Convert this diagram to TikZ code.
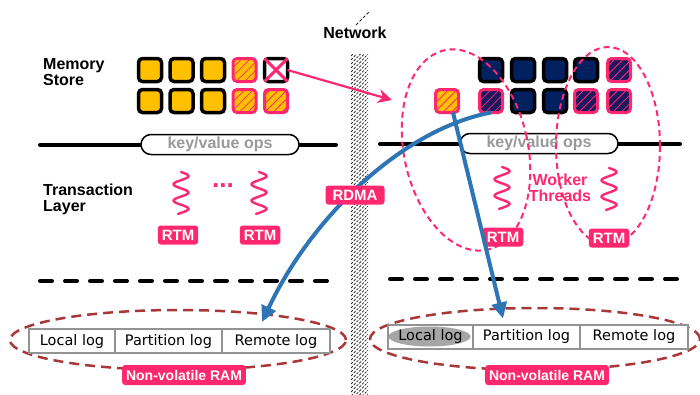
\documentclass[tikz,border=0pt]{standalone}
\usepackage{fontspec}
\setmainfont{Liberation Sans}
\newfontfamily\logfont{DejaVu Sans}
\usepackage{tikz}
\usetikzlibrary{positioning}
\usetikzlibrary{patterns.meta}
\usetikzlibrary{arrows.meta}

\definecolor{hot}{RGB}{255,40,110}
\definecolor{yel}{RGB}{255,192,0}
\definecolor{navy}{RGB}{0,32,96}
\definecolor{navyhot}{RGB}{28,24,96}
\definecolor{dblue}{RGB}{46,117,182}
\definecolor{nvred}{RGB}{170,55,55}

\tikzset{
  sq/.style={minimum size=23pt, inner sep=0pt, outer sep=0pt, rounded corners=4pt, line width=3.5pt},
  ysq/.style={sq, draw=black, fill=yel},
  nsq/.style={sq, draw=black, fill=navy},
  hatched/.style={postaction={pattern={Lines[angle=45,distance=6pt,line width=0.8pt]}, pattern color=hot}},
  ysqh/.style={sq, line width=3pt, draw=hot, fill=yel, hatched},
  nsqh/.style={sq, line width=3pt, draw=hot, fill=navyhot, hatched},
  lbl/.style={font=\fontsize{16}{16}\selectfont\bfseries, align=left, inner sep=0pt},
  tag/.style={fill=hot, text=white, rounded corners=3pt, font=\fontsize{15}{15}\selectfont\bfseries, inner xsep=4pt, inner ysep=0pt, minimum height=19pt},
  kvbox/.style={draw, line width=1.5pt, fill=white, rounded corners=10pt, minimum width=158pt, minimum height=20pt, inner sep=0pt, text=gray!80, font=\fontsize{16}{16}\selectfont\bfseries},
  logcell/.style={draw=gray!85, line width=2pt, fill=white, minimum height=24pt, inner sep=0pt, outer sep=0pt, font=\logfont\fontsize{14.5}{14.5}\selectfont},
  wring/.style={draw=hot, line width=2pt, dash pattern=on 6pt off 4pt},
  nvring/.style={draw=nvred, line width=2.5pt, dash pattern=on 10pt off 6pt},
  layerline/.style={line width=4pt, line cap=round},
  hotarrow/.style={draw=hot, line width=2.2pt, -{Stealth[length=14pt,width=14pt]}},
  dataflow/.style={draw=dblue, line width=4pt, -{Triangle[length=16pt,width=15pt]}}
}

\newcommand{\wiggle}[2]{\draw[hot, line width=2.4pt, line cap=round] plot[domain=0:42, samples=50, smooth] ({#1+7.5*sin(\x*22)}, {#2+\x});}

\begin{document}
\begin{tikzpicture}[x=1pt, y=-1pt]
  \path[use as bounding box] (0,0) rectangle (700,394);

  \begin{scope}
    \clip (351,54) rectangle (368,394);
    \foreach \y in {30,34,...,400}
      \draw[black!85, line width=0.8pt, dash pattern=on 2.5pt off 1.5pt] (351,\y+18) -- (368,\y);
  \end{scope}
  \draw[black!85, line width=0.8pt, dash pattern=on 3pt off 2pt] (356,25) -- (369,12);
  \node[lbl] (net) at (355,33) {Network};

  \draw[layerline] (40,145) -- (336,145);
  \draw[layerline] (380,144) -- (680,144);
  \draw[layerline, dash pattern=on 12pt off 13pt] (40,281) -- (333,281);
  \draw[layerline, dash pattern=on 12pt off 13pt] (390,279) -- (682,279);

  \node[kvbox] (kvl) at (220,144.5) {key/value ops};
  \node[kvbox] (kvr) at (539,143.5) {key/value ops};

  \node[lbl, anchor=west] (mem) at (43,72) {Memory\\Store};
  \node[lbl, anchor=west] (txn) at (43,199) {Transaction\\Layer};

  \node[ysq] (l11) at (150,70) {};
  \node[ysq] (l12) at (181.5,70) {};
  \node[ysq] (l13) at (213,70) {};
  \node[ysqh] (l14) at (244.5,70) {};
  \node[sq, draw=black, fill=white] (l15) at (276,70) {};
  \draw[hot, line width=3pt] (l15.north west) -- (l15.south east);
  \draw[hot, line width=3pt] (l15.south west) -- (l15.north east);
  \node[ysq] (l21) at (150,101) {};
  \node[ysq] (l22) at (181.5,101) {};
  \node[ysq] (l23) at (213,101) {};
  \node[ysqh] (l24) at (244.5,101) {};
  \node[ysqh] (l25) at (276,101) {};

  \node[nsq] (r11) at (491,70) {};
  \node[nsq] (r12) at (523,70) {};
  \node[nsq] (r13) at (555,70) {};
  \node[nsq] (r14) at (586,70) {};
  \node[nsqh] (r15) at (619,70) {};
  \node[ysqh] (r20) at (447,101) {};
  \node[nsqh] (r21) at (491,101) {};
  \node[nsq] (r22) at (523,101) {};
  \node[nsq] (r23) at (555,101) {};
  \node[nsqh] (r24) at (586,101) {};
  \node[nsqh] (r25) at (619,101) {};

  \draw[wring, rotate around={12:(466,150)}] (466,150) ellipse (62pt and 102pt);
  \draw[wring] (608,146) ellipse (52pt and 99pt);

  \wiggle{181}{172}
  \wiggle{259}{172}
  \wiggle{502}{167}
  \wiggle{609}{168}
  \node[lbl, text=hot, font=\fontsize{26}{26}\selectfont\bfseries] (dots) at (223,186) {...};
  \node[lbl, text=hot, align=center] (wt) at (560,188) {Worker\\Threads};

  \node[tag] (rtm1) at (178,235) {RTM};
  \node[tag] (rtm2) at (260,235) {RTM};
  \node[tag] (rtm3) at (503,237) {RTM};
  \node[tag] (rtm4) at (609,238) {RTM};

  \draw[nvring] (178,340) ellipse (168pt and 30pt);
  \draw[nvring] (535,339) ellipse (165pt and 31pt);

  \node[logcell, minimum width=86pt] (ll1) at (72,341) {Local log};
  \node[logcell, minimum width=107pt, right=0pt of ll1] (ll2) {Partition log};
  \node[logcell, minimum width=108pt, right=0pt of ll2] (ll3) {Remote log};

  \node[logcell, minimum width=85pt, path picture={\fill[gray!70] ([xshift=-1pt]path picture bounding box.center) ellipse (41pt and 10pt);}] (rl1) at (430.5,336.5) {Local log};
  \node[logcell, minimum width=107pt, right=0pt of rl1] (rl2) {Partition log};
  \node[logcell, minimum width=108pt, right=0pt of rl2] (rl3) {Remote log};

  \node[tag, font=\fontsize{14}{14}\selectfont\bfseries, minimum height=20pt] (nvl) at (184,375) {Non-volatile RAM};
  \node[tag, font=\fontsize{14}{14}\selectfont\bfseries, minimum height=20pt] (nvr) at (547,375) {Non-volatile RAM};

  \coordinate (rin) at (392,100);
  \draw[hotarrow] (l15.east) -- (rin);
  \draw[dataflow] (r21.south) .. controls (400,130) and (310,220) .. ([xshift=40pt,yshift=7pt]ll3.north west);
  \draw[dataflow] ([xshift=6pt]r20.south) -- ([xshift=30pt,yshift=6pt]rl2.north west);

  \node[tag, inner xsep=7pt] (rdma) at (355,195) {RDMA};
\end{tikzpicture}
\end{document}
